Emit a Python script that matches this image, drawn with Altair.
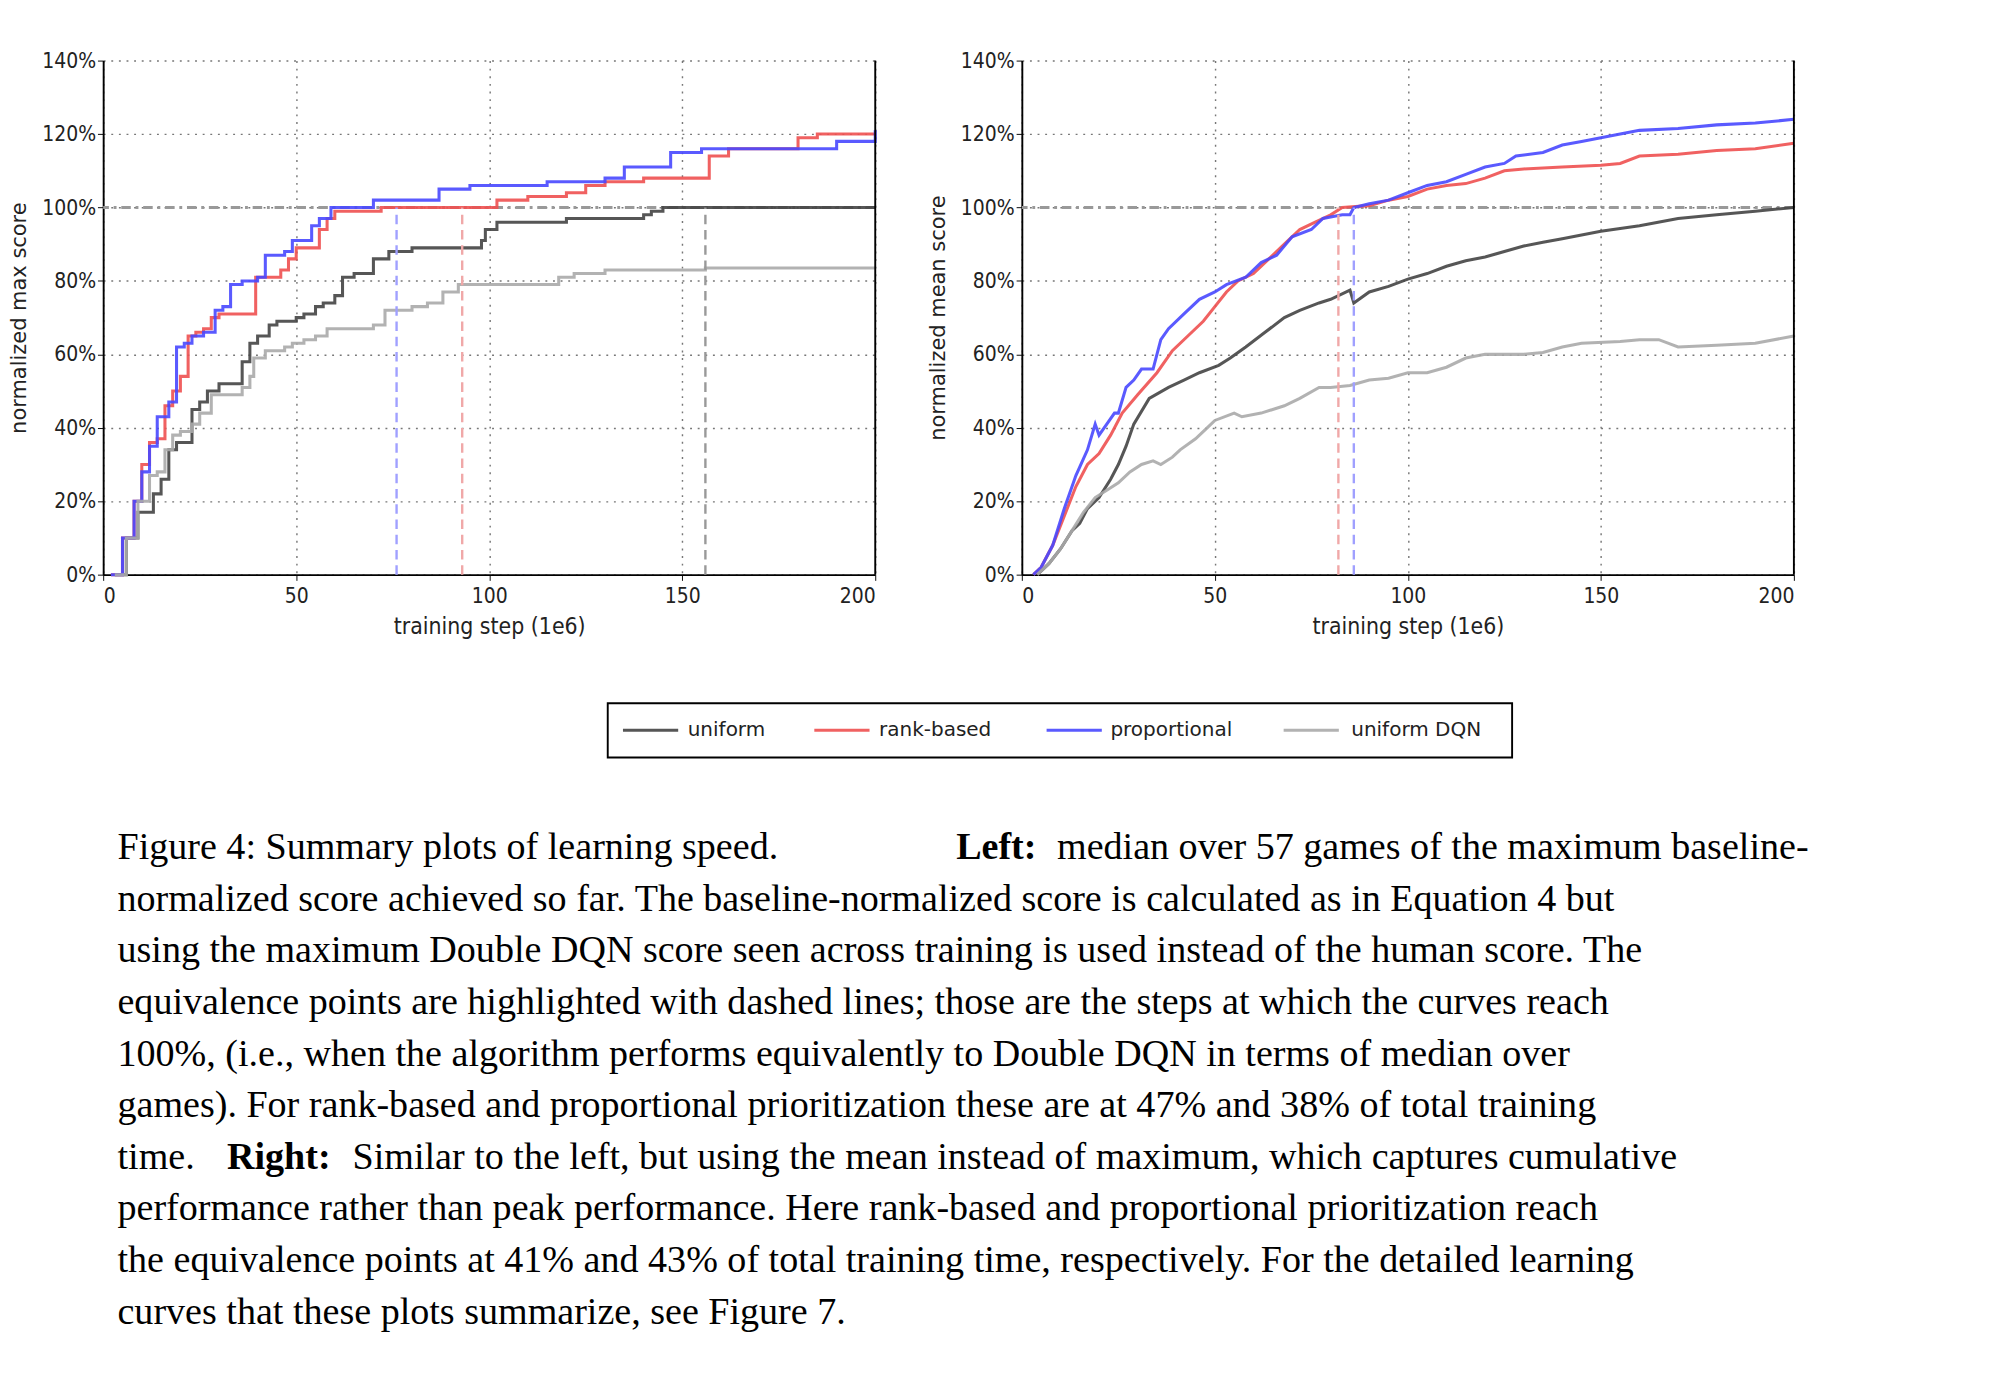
import altair as alt
import pandas as pd

# ---- left panel: normalized max score (step curves) ----
max_uniform_x = [3, 6, 9, 13, 15, 17, 19, 23, 25, 27, 30, 35, 36, 38, 40, 43, 45, 50, 52, 55, 57, 60, 62, 65, 69, 70, 74, 80, 90, 98, 99, 102, 110, 120, 140, 142, 145, 200]
max_uniform_y = [0, 10, 17, 22, 26, 34, 36, 45, 47, 50, 52, 52, 58, 63, 65, 68, 69, 70, 71, 73, 74, 76, 81, 82, 82, 86, 88, 89, 89, 91, 94, 96, 96, 97, 98, 99, 100, 100]
max_rank_x = [2, 5, 8, 10, 12, 14, 16, 18, 20, 22, 24, 26, 28, 30, 39, 39.5, 46, 48, 50, 55, 56, 58, 60, 70, 72, 80, 92, 102, 110, 120, 125, 130, 140, 155, 157, 162, 180, 185, 200]
max_rank_y = [0, 10, 20, 30, 36, 37, 46, 50, 54, 65, 66, 67, 70, 71, 71, 81, 83, 86, 89, 89, 94, 97, 99, 99, 100, 100, 100, 102, 103, 104, 106, 107, 108, 108, 114, 116, 119, 120, 120]
max_prop_x = [2, 5, 8, 10, 12, 14, 17, 19, 21, 23, 26, 29, 31, 33, 36, 40, 42, 47, 49, 52, 54, 56, 59, 66, 70, 85, 87, 95, 105, 115, 130, 135, 145, 147, 155, 165, 175, 188, 190, 199, 200]
max_prop_y = [0, 10, 20, 28, 35, 43, 47, 62, 63, 65, 66, 72, 73, 79, 80, 81, 87, 88, 91, 91, 95, 97, 100, 100, 102, 102, 105, 106, 106, 107, 108, 111, 111, 115, 116, 116, 116, 116, 118, 118, 121]
max_dqn_x = [3, 6, 9, 12, 14, 16, 18, 20, 23, 25, 28, 35, 36, 38, 39, 42, 47, 49, 52, 55, 58, 67, 70, 73, 80, 84, 88, 92, 106, 118, 122, 130, 155, 156, 200]
max_dqn_y = [0, 10, 20, 27, 28, 34, 38, 39, 41, 44, 49, 49, 51, 54, 59, 61, 62, 63, 64, 65, 67, 67, 68, 72, 73, 74, 77, 79, 79, 81, 82, 83, 83, 83.5, 83.5]

# ---- right panel: normalized mean score ----
mean_uniform_x = [4, 7, 10, 13, 15, 17, 20, 23, 25, 27, 29, 33, 38, 42, 46, 51, 54, 58, 63, 68, 72, 77, 80, 85, 86, 90, 95, 100, 105, 110, 115, 120, 125, 130, 135, 140, 150, 160, 170, 180, 190, 200]
mean_uniform_y = [0, 3, 7, 12, 14, 18, 21, 26, 30, 35, 41, 48, 51, 53, 55, 57, 59, 62, 66, 70, 72, 74, 75, 77.5, 74, 77, 78.5, 80.5, 82, 84, 85.5, 86.5, 88, 89.5, 90.5, 91.5, 93.5, 95, 97, 98, 99, 100]
mean_rank_x = [3, 5, 8, 11, 14, 17, 20, 23, 26, 30, 35, 39, 43, 47, 50, 53, 56, 60, 64, 68, 72, 76, 80, 83, 90, 95, 100, 105, 110, 115, 120, 125, 130, 140, 150, 155, 160, 170, 180, 190, 200]
mean_rank_y = [0, 2, 8, 16, 24, 30, 33, 38, 44, 49, 55, 61, 65, 69, 73, 77, 80, 82, 86, 90, 94, 96, 98, 100, 100.5, 102, 103, 105, 106, 106.5, 108, 110, 110.5, 111, 111.5, 112, 114, 114.5, 115.5, 116, 117.5]
mean_prop_x = [3, 5, 8, 11, 14, 17, 19, 20, 22, 24, 25, 27, 29, 31, 34, 36, 38, 42, 46, 50, 53, 58, 62, 66, 70, 75, 78, 83, 85, 86, 90, 95, 100, 105, 110, 115, 120, 125, 128, 135, 140, 145, 150, 155, 160, 170, 180, 190, 200]
mean_prop_y = [0, 2, 8, 18, 27, 34, 41, 38, 41, 44, 44, 51, 53, 56, 56, 64, 67, 71, 75, 77, 79, 81, 85, 87, 92, 94, 97, 98, 98, 100, 101, 102, 104, 106, 107, 109, 111, 112, 114, 115, 117, 118, 119, 120, 121, 121.5, 122.5, 123, 124]
mean_dqn_x = [4, 7, 10, 13, 16, 19, 22, 25, 28, 31, 34, 36, 39, 41, 45, 48, 50, 55, 57, 62, 68, 72, 77, 80, 85, 90, 95, 100, 105, 110, 115, 120, 130, 135, 140, 145, 155, 160, 165, 170, 180, 190, 200]
mean_dqn_y = [0, 3, 7, 12, 17, 21, 23, 25, 28, 30, 31, 30, 32, 34, 37, 40, 42, 44, 43, 44, 46, 48, 51, 51, 51.5, 53, 53.5, 55, 55, 56.5, 59, 60, 60, 60.5, 62, 63, 63.5, 64, 64, 62, 62.5, 63, 65]

series_names = ["uniform", "rank-based", "proportional", "uniform DQN"]
series_colors = ["#444444", "#ee5050", "#4848ff", "#aaaaaa"]

# equivalence points (step where each curve reaches 100%)
max_equiv = [76, 93, 156]
max_equiv_colors = ["#a0a0ff", "#f0a8a8", "#999999"]
mean_equiv = [82, 86]
mean_equiv_colors = ["#f0a8a8", "#a0a0ff"]

y_ticks = [0, 20, 40, 60, 80, 100, 120, 140]
x_ticks = [0, 50, 100, 150, 200]

W, H = 811, 540
TICK_FONT = "DejaVu Sans Condensed"


def frame(series):
    rows = []
    for label, (xs, ys) in zip(series_names, series):
        for x, y in zip(xs, ys):
            rows.append({"step": x, "score": y, "series": label})
    return pd.DataFrame(rows)


def panel(series, equiv, equiv_colors, ytitle, step):
    df = frame(series)
    xs = alt.Scale(domain=[0, 200], nice=False)
    ys = alt.Scale(domain=[0, 140], nice=False)
    xax = alt.Axis(values=x_ticks, title="training step (1e6)", grid=True, gridDash=[2, 6],
                   gridColor="#777", gridWidth=1.5, labelFont=TICK_FONT, labelFontSize=22,
                   titleFont=TICK_FONT, titleFontSize=24, titleFontWeight="normal",
                   titleColor="#222", labelColor="#222", domainColor="black", domainWidth=2,
                   tickColor="black", tickSize=6, labelPadding=6, titlePadding=10)
    yax = alt.Axis(values=y_ticks, title=ytitle, grid=True, gridDash=[2, 6], gridColor="#777",
                   gridWidth=1.5, labelExpr="datum.value + '%'", labelFont=TICK_FONT,
                   labelFontSize=22, titleFont="DejaVu Sans", titleFontSize=22,
                   titleFontWeight="normal", titleColor="#222", labelColor="#222",
                   domainColor="black", domainWidth=2, tickColor="black", tickSize=6,
                   titlePadding=12)
    base = alt.Chart(df)
    lines = base.mark_line(strokeWidth=3.2, opacity=0.9, interpolate=step).encode(
        x=alt.X("step:Q", scale=xs, axis=xax),
        y=alt.Y("score:Q", scale=ys, axis=yax),
        color=alt.Color("series:N", scale=alt.Scale(domain=series_names, range=series_colors), legend=None),
        detail="series:N",
    )
    eq = pd.DataFrame({"step": equiv, "c": equiv_colors, "top": [100] * len(equiv), "bot": [0] * len(equiv)})
    vrules = alt.Chart(eq).mark_rule(strokeWidth=2.5, strokeDash=[10, 6]).encode(
        x=alt.X("step:Q", scale=xs), y=alt.Y("bot:Q", scale=ys), y2="top:Q",
        color=alt.Color("c:N", scale=None),
    )
    hrule = alt.Chart(pd.DataFrame({"v": [100]})).mark_rule(
        strokeWidth=3, color="#999", strokeDash=[10, 5, 3, 5]).encode(y=alt.Y("v:Q", scale=ys))
    right = alt.Chart(pd.DataFrame({"v": [200]})).mark_rule(strokeWidth=2, color="black").encode(
        x=alt.X("v:Q", scale=xs))
    return alt.layer(hrule, lines, vrules, right).properties(width=W, height=H)


left = panel([(max_uniform_x, max_uniform_y), (max_rank_x, max_rank_y),
              (max_prop_x, max_prop_y), (max_dqn_x, max_dqn_y)],
             max_equiv, max_equiv_colors, "normalized max score", "step-after")
right = panel([(mean_uniform_x, mean_uniform_y), (mean_rank_x, mean_rank_y),
               (mean_prop_x, mean_prop_y), (mean_dqn_x, mean_dqn_y)],
              mean_equiv, mean_equiv_colors, "normalized mean score", "linear")

top = alt.hconcat(left, right, spacing=47)

# ---- legend + caption, laid out on a pixel grid ----
BW, BH = 1982, 730
px = alt.Scale(domain=[0, BW], range=[0, BW])
py = alt.Scale(domain=[0, BH], range=[0, BH])

leg_line_x = [546, 747, 991, 1240]
leg_text_x = [614, 815, 1058, 1311]
legend_box = alt.Chart(pd.DataFrame({"x": [530], "x2": [1480], "y": [68], "y2": [125]})).mark_rect(
    fill="white", stroke="black", strokeWidth=2).encode(
    x=alt.X("x:Q", scale=px, axis=None), x2="x2:Q", y=alt.Y("y:Q", scale=py, axis=None), y2="y2:Q")
leg = pd.DataFrame({"name": series_names, "c": series_colors, "x": leg_line_x,
                    "x2": [v + 58 for v in leg_line_x], "tx": leg_text_x, "y": [96.5] * 4})
legend_lines = alt.Chart(leg).mark_rule(strokeWidth=3.2, opacity=0.9).encode(
    x=alt.X("x:Q", scale=px), x2="x2:Q", y=alt.Y("y:Q", scale=py), color=alt.Color("c:N", scale=None))
legend_text = alt.Chart(leg).mark_text(align="left", baseline="middle", font="DejaVu Sans",
                                       fontSize=21, color="#222").encode(
    x=alt.X("tx:Q", scale=px), y=alt.Y("y:Q", scale=py), text="name:N")

caption_lines = [
    "",
    "normalized score achieved so far.  The baseline-normalized score is calculated as in Equation 4 but",
    "using the maximum Double DQN score seen across training is used instead of the human score.  The",
    "equivalence points are highlighted with dashed lines; those are the steps at which the curves reach",
    "100%, (i.e., when the algorithm performs equivalently to Double DQN in terms of median over",
    "games).  For rank-based and proportional prioritization these are at 47% and 38% of total training",
    "",
    "performance rather than peak performance.  Here rank-based and proportional prioritization reach",
    "the equivalence points at 41% and 43% of total training time, respectively.  For the detailed learning",
    "curves that these plots summarize, see Figure 7.",
]
# segments of the two lines that mix bold and regular type
seg_text = ["Figure 4:   Summary plots of learning speed.", "Left:", "median over 57 games of the maximum baseline-",
            "time.", "Right:", "Similar to the left, but using the mean instead of maximum, which captures cumulative"]
seg_line = [0, 0, 0, 6, 6, 6]
seg_x = [15, 896, 1002, 15, 130, 262]
seg_bold = [False, True, False, False, True, False]

CAP_Y0, CAP_DY = 220, 54.2
cap_rows = [{"t": t, "x": 15, "y": CAP_Y0 + CAP_DY * i, "b": False} for i, t in enumerate(caption_lines) if t]
cap_rows += [{"t": t, "x": x, "y": CAP_Y0 + CAP_DY * i, "b": b}
             for t, x, i, b in zip(seg_text, seg_x, seg_line, seg_bold)]
cap = pd.DataFrame(cap_rows)


def caption_text(bold):
    return alt.Chart(cap[cap["b"] == bold]).mark_text(
        align="left", baseline="middle", font="Liberation Serif", fontSize=40, color="black",
        fontWeight="bold" if bold else "normal").encode(
        x=alt.X("x:Q", scale=px), y=alt.Y("y:Q", scale=py), text="t:N")


bottom = alt.layer(legend_box, legend_lines, legend_text, caption_text(False), caption_text(True)).properties(
    width=BW, height=BH)

chart = alt.vconcat(top, bottom, spacing=0).properties(
    padding={"left": 0, "top": 10, "right": 0, "bottom": 0}).configure_view(stroke=None)

chart.save("out.html", embed_options={"renderer": "svg", "actions": False})
